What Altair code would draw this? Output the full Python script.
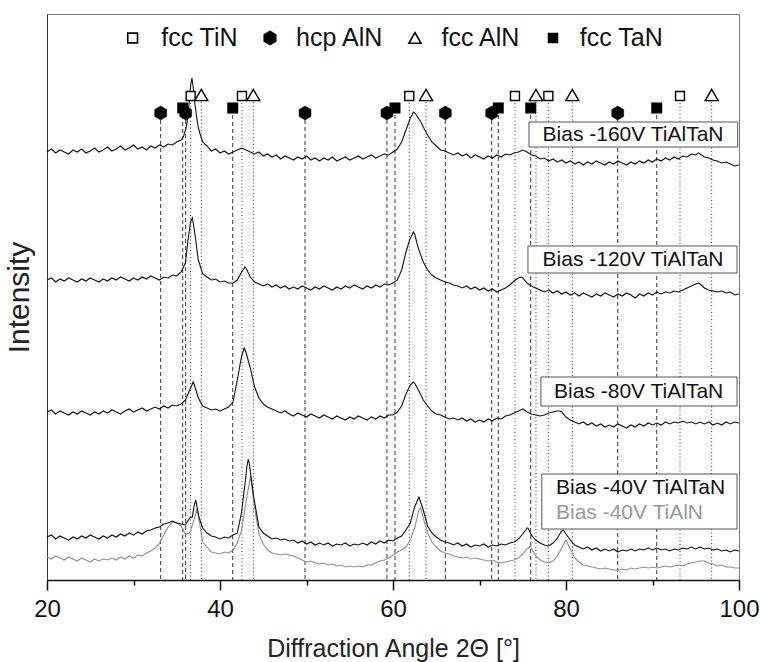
import altair as alt
import numpy as np
import pandas as pd

# 2-theta grid of the scans (degrees), 0.5 deg steps
two_theta = np.round(np.arange(20.0, 100.001, 0.5), 2)

# Intensity (a.u., stacked offsets included) on the 2-theta grid
counts_160 = [
    428, 431, 427, 430, 428, 426, 430, 428, 431, 427,
    429, 432, 428, 430, 433, 429, 431, 434, 430, 432,
    435, 431, 433, 430, 434, 432, 435, 433, 436, 435,
    438, 440, 450, 484, 485, 452, 438, 434, 429, 431,
    427, 429, 426, 428, 430, 432, 430, 428, 426, 428,
    424, 426, 423, 425, 421, 424, 422, 420, 423, 421,
    424, 420, 422, 419, 422, 420, 423, 419, 421, 423,
    420, 422, 424, 421, 423, 425, 422, 424, 426, 425,
    428, 431, 438, 450, 462, 467, 461, 453, 445, 438,
    434, 430, 429, 427, 425, 427, 424, 426, 422, 425,
    423, 421, 424, 422, 425, 423, 426, 425, 427, 428,
    430, 428, 425, 424, 421, 422, 419, 421, 418, 420,
    417, 419, 416, 418, 415, 418, 416, 419, 417, 415,
    418, 416, 419, 417, 415, 418, 416, 419, 417, 420,
    418, 421, 419, 422, 420, 423, 421, 424, 423, 426,
    425, 426, 423, 422, 420, 419, 417, 418, 416, 414,
    415,
]
counts_120 = [
    300, 302, 298, 301, 299, 302, 300, 298, 301, 299,
    302, 300, 298, 301, 299, 302, 300, 303, 301, 299,
    302, 300, 303, 301, 304, 302, 300, 303, 302, 305,
    304, 308, 317, 352, 352, 320, 306, 303, 300, 301,
    298, 299, 297, 297, 300, 308, 312, 303, 298, 296,
    294, 296, 293, 295, 292, 294, 291, 293, 291, 294,
    292, 290, 293, 291, 294, 292, 290, 293, 291, 294,
    292, 295, 293, 291, 294, 292, 295, 293, 296, 295,
    297, 300, 310, 328, 342, 346, 330, 318, 310, 305,
    302, 300, 298, 297, 295, 294, 292, 294, 291, 293,
    290, 292, 289, 291, 288, 290, 292, 295, 299, 302,
    302, 297, 294, 292, 290, 288, 290, 287, 289, 286,
    288, 285, 287, 284, 287, 285, 283, 286, 284, 287,
    285, 283, 286, 284, 287, 285, 282, 286, 284, 287,
    285, 288, 286, 288, 287, 289, 288, 290, 292, 294,
    296, 296, 292, 290, 289, 288, 289, 287, 288, 285,
    286,
]
counts_80 = [
    168, 170, 166, 169, 167, 165, 168, 166, 169, 167,
    165, 168, 166, 169, 167, 170, 168, 166, 169, 171,
    168, 170, 172, 169, 171, 173, 171, 174, 172, 175,
    174, 176, 180, 190, 196, 182, 174, 172, 170, 171,
    169, 171, 173, 178, 200, 224, 228, 212, 193, 182,
    176, 173, 171, 169, 167, 169, 166, 164, 167, 165,
    163, 166, 164, 162, 165, 163, 161, 164, 162, 160,
    163, 161, 164, 162, 160, 163, 161, 164, 162, 165,
    165, 168, 174, 186, 195, 197, 189, 180, 174, 169,
    166, 165, 163, 161, 162, 160, 162, 159, 161, 158,
    160, 158, 161, 159, 162, 161, 164, 165, 167, 169,
    171, 168, 166, 165, 164, 165, 167, 168, 169, 168,
    163, 160, 158, 156, 158, 155, 157, 154, 156, 153,
    155, 153, 156, 154, 152, 155, 153, 156, 154, 157,
    155, 157, 155, 158, 156, 158, 157, 159, 157, 158,
    156, 158, 156, 158, 155, 157, 155, 158, 156, 158,
    157,
]
counts_40 = [
    43, 45, 41, 44, 42, 40, 43, 41, 44, 42,
    45, 43, 41, 44, 42, 45, 43, 46, 44, 47,
    45, 48, 46, 49, 50, 52, 53, 56, 57, 59,
    57, 56, 55, 62, 74, 66, 52, 47, 44, 43,
    41, 43, 42, 45, 47, 68, 104, 109, 78, 53,
    47, 44, 41, 42, 40, 41, 39, 40, 37, 39,
    36, 38, 35, 37, 35, 37, 34, 36, 35, 37,
    34, 36, 35, 37, 35, 38, 36, 39, 37, 40,
    39, 42, 44, 50, 57, 73, 83, 70, 54, 47,
    43, 40, 38, 37, 35, 37, 34, 36, 33, 35,
    34, 36, 33, 35, 34, 36, 35, 37, 38, 41,
    46, 52, 45, 40, 37, 35, 34, 37, 42, 49,
    46, 40, 35, 33, 31, 33, 30, 32, 29, 31,
    29, 31, 28, 30, 29, 31, 29, 31, 30, 32,
    30, 32, 30, 31, 29, 31, 30, 32, 31, 33,
    31, 33, 31, 32, 30, 31, 29, 30, 28, 30,
    29,
]
counts_40_tialn = [
    23, 21, 24, 22, 20, 23, 21, 19, 22, 20,
    18, 21, 19, 21, 20, 22, 20, 23, 21, 24,
    22, 25, 24, 27, 29, 32, 37, 45, 53, 58,
    57, 54, 46, 47, 60, 64, 38, 33, 28, 27,
    26, 28, 27, 30, 37, 50, 78, 102, 72, 46,
    36, 30, 27, 26, 25, 26, 25, 24, 22, 20,
    18, 19, 17, 16, 17, 15, 16, 14, 15, 13,
    14, 13, 14, 13, 15, 15, 17, 19, 20, 22,
    25, 28, 30, 33, 40, 52, 70, 62, 47, 38,
    33, 29, 27, 26, 24, 23, 22, 23, 21, 22,
    21, 20, 19, 20, 18, 17, 18, 19, 20, 22,
    26, 31, 32, 24, 20, 18, 17, 19, 24, 32,
    40, 31, 22, 18, 15, 14, 13, 12, 11, 12,
    11, 10, 10, 11, 10, 12, 11, 12, 13, 12,
    13, 12, 13, 14, 13, 14, 15, 14, 16, 17,
    18, 19, 19, 17, 16, 14, 15, 13, 13, 12,
    12,
]

# Extra points resolving the peak tops (2-theta, intensity)
peaks_160 = [(35.8, 444), (36.2, 458), (36.4, 474), (36.6, 494), (36.75, 502),
             (36.9, 493), (37.1, 476), (37.3, 463), (37.7, 446), (61.8, 457),
             (62.2, 465), (62.35, 468), (62.7, 465), (63.3, 457), (95.3, 427)]
peaks_120 = [(36.3, 340), (36.6, 358), (36.8, 362), (37.2, 340), (37.4, 325),
             (42.9, 313), (62.2, 345), (62.35, 348), (62.8, 336), (74.8, 303),
             (95.3, 297)]
peaks_80 = [(36.9, 198), (42.8, 232), (62.35, 198), (79.3, 169)]
peaks_40 = [(36.8, 63), (37.2, 80), (37.6, 62), (42.7, 83), (43.1, 113),
            (43.27, 121), (43.4, 116), (43.9, 83), (75.6, 52), (79.7, 50)]
peaks_40_tialn = [(37.3, 70), (43.55, 103), (63.2, 72), (75.9, 34)]

sample_names = ["Bias -160V TiAlTaN", "Bias -120V TiAlTaN", "Bias -80V TiAlTaN",
                "Bias -40V TiAlTaN", "Bias -40V TiAlN"]

# Reference peak positions (2-theta) of the phases
phase_names = ["fcc TiN", "hcp AlN", "fcc AlN", "fcc TaN"]
tin_fcc_peaks = [36.61, 42.54, 61.88, 74.10, 77.96, 93.18]
aln_hcp_peaks = [33.14, 36.03, 49.83, 59.30, 66.05, 71.41, 85.98]
aln_fcc_peaks = [37.84, 43.85, 63.82, 76.53, 80.73, 96.84]
tan_fcc_peaks = [35.69, 41.47, 60.23, 72.17, 75.92, 90.49]

# ---------------------------------------------------------------- layout
marker_level = {"fcc TiN": 484, "hcp AlN": 467, "fcc AlN": 485, "fcc TaN": 472}
legend_level = 542
legend_symbol_at = [29.9, 45.78, 62.54, 78.5]
legend_text_at = [33.2, 48.8, 65.6, 81.6]

box_left = [75.72, 75.6, 77.1, 77.2]
box_right = [99.85, 99.77, 99.77, 99.77]
box_top = [458, 334, 203, 106]
box_bottom = [433, 307, 174, 51]
label_center_x = [87.75, 87.75, 88.4]
label_center_y = [445, 320, 188]
label40_x = 78.84
label40_y = [92, 67]

FONT = "Liberation Sans"
HEX = "M0,-1L0.866,-0.5L0.866,0.5L0,1L-0.866,0.5L-0.866,-0.5Z"


def scan(name, counts, peaks):
    grid = pd.DataFrame({"angle": two_theta, "counts": counts})
    extra = pd.DataFrame(peaks, columns=["angle", "counts"])
    df = pd.concat([grid, extra]).sort_values("angle").reset_index(drop=True)
    df["sample"] = name
    return df


scans_black = pd.concat([
    scan(sample_names[0], counts_160, peaks_160),
    scan(sample_names[1], counts_120, peaks_120),
    scan(sample_names[2], counts_80, peaks_80),
    scan(sample_names[3], counts_40, peaks_40),
])
scan_grey = scan(sample_names[4], counts_40_tialn, peaks_40_tialn)

phase_peaks = {
    "fcc TiN": tin_fcc_peaks,
    "hcp AlN": aln_hcp_peaks,
    "fcc AlN": aln_fcc_peaks,
    "fcc TaN": tan_fcc_peaks,
}
refs = pd.DataFrame(
    [{"phase": p, "angle": a, "level": marker_level[p]}
     for p, angles in phase_peaks.items() for a in angles]
)

x_scale = alt.Scale(domain=[20, 100], nice=False, zero=False)
y_scale = alt.Scale(domain=[0, 566], nice=False, zero=False)
x_axis = alt.Axis(
    title="Diffraction Angle 2\u0398 [\u00b0]",
    values=[20, 30, 40, 50, 60, 70, 80, 90, 100],
    labelExpr="datum.value % 20 == 0 ? datum.label : ''",
    tickSize={"condition": {"test": "datum.value % 20 == 0", "value": 10}, "value": 5},
    tickWidth=1.5,
    tickColor="#111",
    domainColor="#111",
    domainWidth=1.5,
    grid=False,
    labelFlush=False,
    labelOverlap=False,
    labelFontSize=24,
    labelPadding=7,
    labelColor="#111",
    titleFontSize=25,
    titlePadding=15,
    titleColor="#222",
    titleFontWeight="normal",
)
y_axis = alt.Axis(
    title="Intensity",
    labels=False,
    ticks=False,
    grid=False,
    domainColor="#333",
    domainWidth=1,
    titleFontSize=30,
    titlePadding=13,
    titleColor="#222",
    titleFontWeight="normal",
)


def X(field):
    return alt.X(f"{field}:Q", scale=x_scale, axis=x_axis)


def Y(field):
    return alt.Y(f"{field}:Q", scale=y_scale, axis=y_axis)


# reference lines: dashed for hcp AlN / fcc TaN, dotted for fcc TiN / fcc AlN
ref_dashed = alt.Chart(refs[refs.phase.isin(["hcp AlN", "fcc TaN"])]).mark_rule(
    color="#333", strokeWidth=1, strokeDash=[4, 3]
).encode(x=X("angle"), y=Y("level"), y2=alt.datum(0))
ref_dotted = alt.Chart(refs[refs.phase.isin(["fcc TiN", "fcc AlN"])]).mark_rule(
    color="#333", strokeWidth=1, strokeDash=[1, 2.5]
).encode(x=X("angle"), y=Y("level"), y2=alt.datum(0))

boxes = pd.DataFrame({"x1": box_left, "x2": box_right, "top": box_top, "bottom": box_bottom})
box_layer = alt.Chart(boxes).mark_rect(fill="white", stroke="#555", strokeWidth=1).encode(
    x=X("x1"), x2="x2", y=Y("top"), y2="bottom"
)

grey_line = alt.Chart(scan_grey).mark_line(color="#8e8e8e", strokeWidth=1.1).encode(
    x=X("angle"), y=Y("counts")
)
black_lines = alt.Chart(scans_black).mark_line(color="#111", strokeWidth=1.1).encode(
    x=X("angle"), y=Y("counts"), detail="sample:N"
)

marker_style = {
    "fcc TiN": dict(shape="square", size=80, fill="white", strokeWidth=1.4),
    "hcp AlN": dict(shape=HEX, size=190, fill="black", strokeWidth=0.5),
    "fcc AlN": dict(shape="triangle-up", size=170, fill="white", strokeWidth=1.4),
    "fcc TaN": dict(shape="square", size=110, fill="black", strokeWidth=0.5),
}
legend_style = {
    "fcc TiN": dict(shape="square", size=95, fill="white", strokeWidth=1.6),
    "hcp AlN": dict(shape=HEX, size=210, fill="black", strokeWidth=0.5),
    "fcc AlN": dict(shape="triangle-up", size=150, fill="white", strokeWidth=1.6),
    "fcc TaN": dict(shape="square", size=100, fill="black", strokeWidth=0.5),
}

marker_layers = []
for p in phase_names:
    st = marker_style[p]
    marker_layers.append(
        alt.Chart(refs[refs.phase == p]).mark_point(
            filled=True, opacity=1, stroke="black", **st
        ).encode(x=X("angle"), y=Y("level"))
    )

legend_layers = []
for i, p in enumerate(phase_names):
    st = legend_style[p]
    row = pd.DataFrame({"angle": [legend_symbol_at[i]], "level": [legend_level]})
    legend_layers.append(
        alt.Chart(row).mark_point(filled=True, opacity=1, stroke="black", **st).encode(
            x=X("angle"), y=Y("level")
        )
    )
legend_text = pd.DataFrame({"angle": legend_text_at, "level": legend_level, "label": phase_names})
legend_layers.append(
    alt.Chart(legend_text).mark_text(
        font=FONT, fontSize=25, align="left", baseline="middle", color="#111"
    ).encode(x=X("angle"), y=Y("level"), text="label:N")
)

labels_c = pd.DataFrame({"x": label_center_x, "y": label_center_y, "label": sample_names[:3]})
label_layer_c = alt.Chart(labels_c).mark_text(
    font=FONT, fontSize=21, align="center", baseline="middle", color="#111"
).encode(x=X("x"), y=Y("y"), text="label:N")
labels_l = pd.DataFrame({"x": label40_x, "y": label40_y, "label": sample_names[3:],
                         "color": ["#111", "#999"]})
label_layer_l = alt.Chart(labels_l).mark_text(
    font=FONT, fontSize=21, align="left", baseline="middle"
).encode(x=X("x"), y=Y("y"), text="label:N", color=alt.Color("color:N", scale=None))

chart = alt.layer(
    ref_dashed, ref_dotted, box_layer, grey_line, black_lines,
    *marker_layers, label_layer_c, label_layer_l, *legend_layers
).properties(
    width=692,
    height=566,
    autosize=alt.AutoSizeParams(type="none"),
    padding={"left": 47, "top": 14, "right": 22, "bottom": 82},
).configure_view(
    stroke="#777", strokeWidth=1
).configure_axis(
    labelFont=FONT, titleFont=FONT
)

chart.save("out.html", embed_options={"renderer": "svg", "actions": False})
